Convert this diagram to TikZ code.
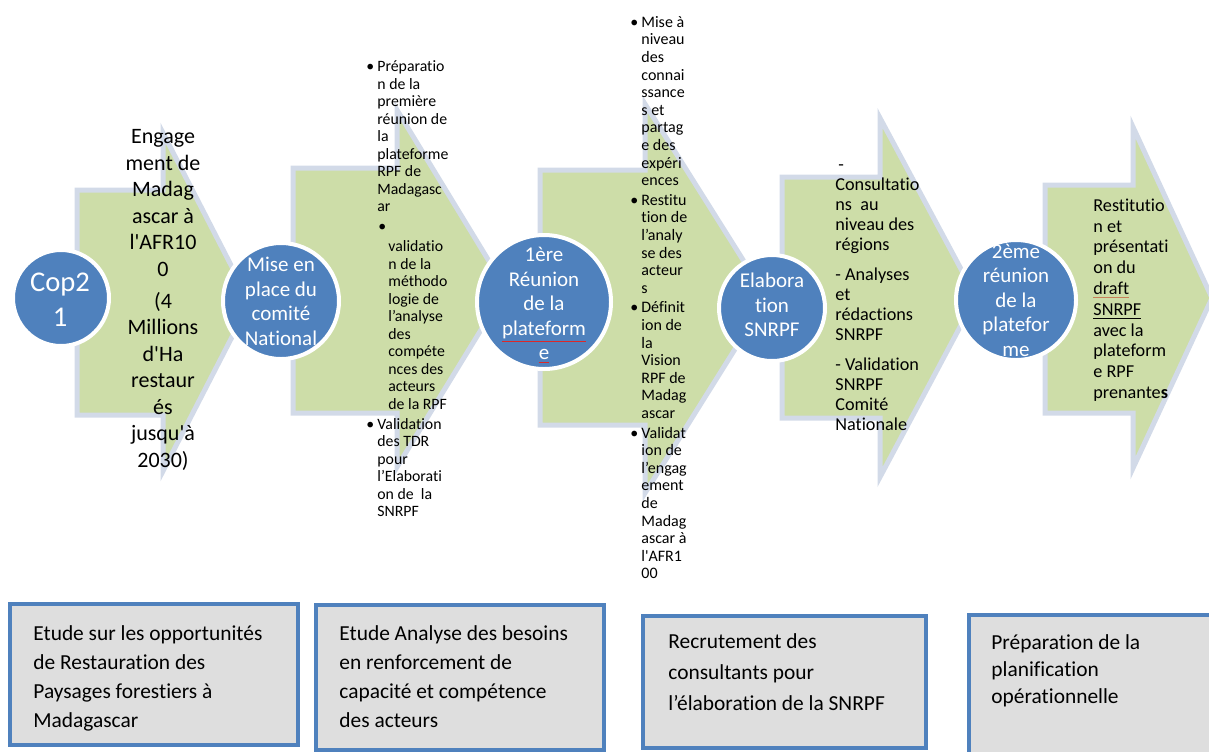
\documentclass[tikz,border=0pt]{standalone}
\usepackage{fontspec}
\setmainfont{Carlito}[Ligatures={TeX,NoCommon}]
\usetikzlibrary{positioning}

\definecolor{stageblue}{RGB}{79,129,189}
\definecolor{arrowgreen}{RGB}{205,221,168}
\definecolor{arrowrim}{RGB}{210,218,232}
\definecolor{boxgray}{RGB}{222,222,222}
\definecolor{spellred}{RGB}{220,40,40}
\definecolor{spellbrown}{RGB}{200,130,90}

\begin{document}
\begin{tikzpicture}
	[
	x=0.5pt, y=0.5pt,
	stage/.style={circle, fill=stageblue, draw=white, line width=2pt, inner sep=0pt},
	stagetext/.style={text=white, align=center, inner sep=0pt, font=\fontsize{10.5}{12.25}\selectfont},
	arrowbody/.style={fill=arrowgreen, draw=arrowrim, line width=2.5pt, line join=miter},
	note/.style={inner sep=0pt, align=left, text=black},
	box/.style={draw=stageblue, fill=boxgray, line width=2pt, inner sep=0pt},
	boxtext/.style={note, anchor=north west, font=\fontsize{10.7}{14.5}\selectfont}
	]
		\useasboundingbox (0,0) rectangle (1209,-751);

		% arrows: left / top / bottom / head x / head top / head bottom / tip
		\foreach \xa/\ya/\yb/\xh/\yc/\yd/\xt/\yt in
			{77/190/415/163/133/471/250/302,
			 293/168/413/397/110/467/506/289,
			 540/170/425/645/104/493/767/298,
			 782/177/418/880/118/477/976/297,
			 1045/185/413/1133/127/468/1212/298}
			\draw [arrowbody] (\xa,-\ya) -- (\xh,-\ya) -- (\xh,-\yc) -- (\xt,-\yt)
				-- (\xh,-\yd) -- (\xh,-\yb) -- (\xa,-\yb) -- cycle;

		% text on the arrows
		\node (a1) [note, align=center, font=\fontsize{11}{13.25}\selectfont] at (163,-300)
			{Engage\\ment de\\Madag\\ascar à\\l\textquotesingle AFR10\\0\\[2.75pt](4\\Millions\\d\textquotesingle Ha\\restaur\\és\\jusqu\textquotesingle à\\2030)};
		\node (a2) [note, anchor=west, font=\fontsize{7.9}{8.75}\selectfont] at (366,-290.5)
			{\begin{tabular}{@{}p{5.5pt}@{}l@{}}
			• & Préparatio\\
			& n de la\\
			& première\\
			& réunion de\\
			& la\\
			& plateforme\\
			& RPF de\\
			& Madagasc\\
			& ar\\[1.25pt]
			& \hspace*{0.5pt}•\\[1.25pt]
			& \hspace*{5.5pt}validatio\\
			& \hspace*{5.5pt}n de la\\
			& \hspace*{5.5pt}méthodo\\
			& \hspace*{5.5pt}logie de\\
			& \hspace*{5.5pt}l’analyse\\
			& \hspace*{5.5pt}des\\
			& \hspace*{5.5pt}compéte\\
			& \hspace*{5.5pt}nces des\\
			& \hspace*{5.5pt}acteurs\\
			& \hspace*{5.5pt}de la RPF\\[1.25pt]
			• & Validation\\
			& des TDR\\
			& pour\\
			& l’Elaborati\\
			& on de\ \ la\\
			& SNRPF
			\end{tabular}};
		\node (a3) [note, anchor=west, font=\fontsize{8}{8.8}\selectfont] at (630,-299.5)
			{\begin{tabular}{@{}p{5.5pt}@{}l@{}}
			• & Mise à\\
			& niveau\\
			& des\\
			& connai\\
			& ssance\\
			& s et\\
			& partag\\
			& e des\\
			& expéri\\
			& ences\\[1pt]
			• & Restitu\\
			& tion de\\
			& l’analy\\
			& se des\\
			& acteur\\
			& s\\[1pt]
			• & Définit\\
			& ion de\\
			& la\\
			& Vision\\
			& RPF de\\
			& Madag\\
			& ascar\\[1pt]
			• & Validat\\
			& ion de\\
			& l’engag\\
			& ement\\
			& de\\
			& Madag\\
			& ascar à\\
			& l\textquotesingle AFR1\\
			& 00
			\end{tabular}};
		\node (a4) [note, anchor=west, font=\fontsize{9.1}{10}\selectfont] at (835,-298)
			{\hspace*{1.5pt}-\\Consultatio\\ns\ \ au\\niveau des\\régions\\[5pt]- Analyses\\et\\rédactions\\SNRPF\\[5pt]- Validation\\SNRPF\\Comité\\Nationale};
		\node (a5) [note, anchor=west, font=\fontsize{9.1}{10.4}\selectfont] at (1093,-300)
			{Restitutio\\n et\\présentati\\on du\\{\color{spellbrown}\underline{\color{black}draft}}\\\underline{SNRPF}\\avec la\\plateform\\e RPF\\prenante\textbf{s}};

		% stage circles
		\node (c1) [stage, minimum size=48pt] at (61,-298) {};
		\node (c2) [stage, minimum size=58pt] at (281,-301) {};
		\node (c3) [stage, minimum size=67pt] at (544,-302) {};
		\node (c4) [stage, minimum size=53pt] at (772,-308) {};
		\node (c5) [stage, minimum size=60pt] at (1016,-300) {};

		\node (c1t) [stagetext, font=\fontsize{14.3}{17.5}\selectfont] at (60,-300) {Cop2\\1};
		\node (c2t) [stagetext] at (281,-301.5) {Mise en\\place du\\comité\\National};
		\node (c3t) [stagetext] at (544,-305.5)
			{1ère\\Réunion\\de la\\{\color{spellred}\underline{\color{white}plateform}}\\{\color{spellred}\underline{\color{white}e}}};
		\node (c4t) [stagetext] at (772,-305) {Elabora\\tion\\SNRPF};
		\node (c5t) [stagetext] at (1016,-300) {2ème\\réunion\\de la\\platefor\\me};

		% bottom boxes
		\node (b1) [box, minimum width=144pt, minimum height=70.5pt] at (154,-674.5) {};
		\node (b2) [box, minimum width=144pt, minimum height=72.5pt] at (460,-677.5) {};
		\node (b3) [box, minimum width=141.5pt, minimum height=66pt] at (784.5,-682) {};
		\node (b4) [box, minimum width=123pt, minimum height=72.5pt] at (1092,-687.5) {};

		\node (t1) [boxtext] at (33,-625)
			{Etude sur les opportunités\\de Restauration des\\Paysages forestiers à\\Madagascar};
		\node (t2) [boxtext] at (339,-625)
			{Etude Analyse des besoins\\en renforcement de\\capacité et compétence\\des acteurs};
		\node (t3) [boxtext, font=\fontsize{10.7}{15.5}\selectfont] at (668,-633)
			{Recrutement des\\consultants pour\\l’élaboration de la SNRPF};
		\node (t4) [boxtext, font=\fontsize{10.7}{13.5}\selectfont] at (991,-634)
			{Préparation de la\\planification\\opérationnelle};
\end{tikzpicture}
\end{document}
